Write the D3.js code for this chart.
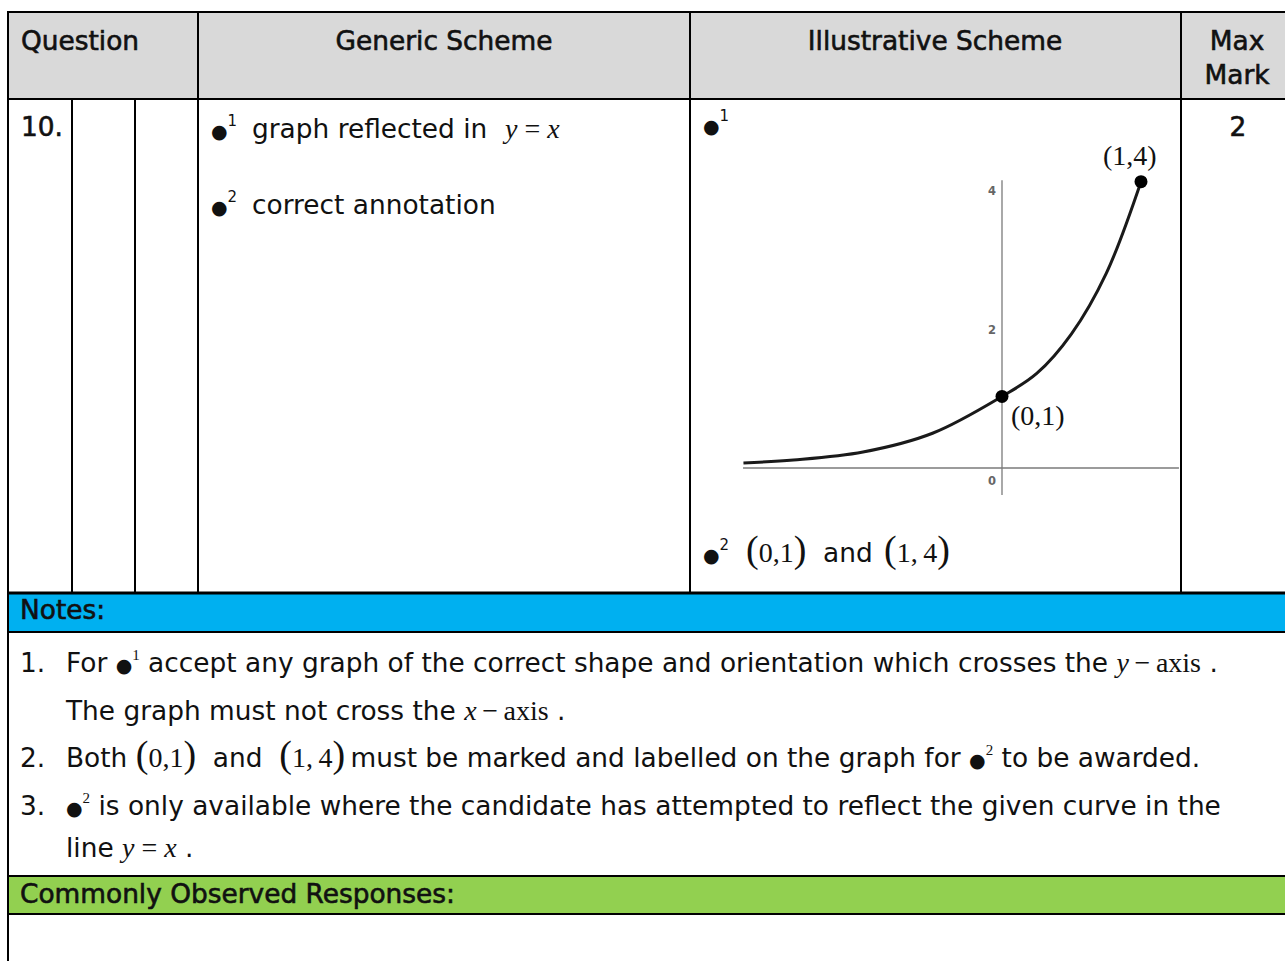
<!DOCTYPE html>
<html>
<head>
<meta charset="utf-8">
<script src="https://cdn.jsdelivr.net/npm/d3@7"></script>
<style>
  body { margin: 0; background: #fff; }
  svg { display: block; }
</style>
</head>
<body>
<div id="sheet"></div>
<script>
// values in the illustrative scheme (graph units)
const curveX = [-1.86, -1.5, -1, -0.5, 0, 0.25, 0.5, 0.75, 1];
const curveY = [0.072, 0.115, 0.23, 0.5, 1.03, 1.36, 1.93, 2.8, 4.12];
const pointX = [0, 1];
const pointY = [1.03, 4.12];
const pointLabels = ["(0,1)", "(1,4)"];
const yTickValues = [0, 2, 4];
const xAxisExtent = [-1.863, 1.273];
const yAxisExtent = [-0.39, 4.14];

// table text
const headers = ["Question", "Generic Scheme", "Illustrative Scheme"];
const maxMarkHeader = ["Max", "Mark"];
const questionNumber = "10.";
const maxMark = "2";

var svgWidth = 1285;
var svgHeight = 961;

var SANS = "'DejaVu Sans', Verdana, sans-serif";
var SERIF = "'Liberation Serif', 'Times New Roman', serif";
var FS = 26.4;
var MS = 28; // math (serif) size

var svg = d3.select("#sheet")
  .append("svg")
  .attr("width", svgWidth)
  .attr("height", svgHeight);

// ---- table background bands
var bands = [
  { y0: 12, y1: 99, fill: "#d9d9d9" },
  { y0: 593, y1: 632, fill: "#00b0f0" },
  { y0: 876, y1: 914, fill: "#92d050" }
];
svg.selectAll("rect.band")
  .data(bands)
  .enter()
  .append("rect")
  .attr("class", "band")
  .attr("x", 8)
  .attr("y", d => d.y0)
  .attr("width", svgWidth - 8)
  .attr("height", d => d.y1 - d.y0)
  .attr("fill", d => d.fill);

// ---- rules
var hRules = [12, 99, 593, 632, 876, 914];
svg.selectAll("line.h")
  .data(hRules)
  .enter()
  .append("line")
  .attr("x1", 7).attr("x2", svgWidth)
  .attr("y1", d => d).attr("y2", d => d)
  .attr("stroke", "#000")
  .attr("stroke-width", (d, i) => (i === 2 ? 3 : 2));

var vRules = [
  { x: 8, y0: 11, y1: svgHeight },
  { x: 72, y0: 99, y1: 593 },
  { x: 135, y0: 99, y1: 593 },
  { x: 198, y0: 11, y1: 593 },
  { x: 690, y0: 11, y1: 593 },
  { x: 1181, y0: 11, y1: 593 }
];
svg.selectAll("line.v")
  .data(vRules)
  .enter()
  .append("line")
  .attr("x1", d => d.x).attr("x2", d => d.x)
  .attr("y1", d => d.y0).attr("y2", d => d.y1)
  .attr("stroke", "#000")
  .attr("stroke-width", 2);

// ---- text helpers
function plain(x, y, str, opts) {
  opts = opts || {};
  return svg.append("text")
    .attr("x", x).attr("y", y)
    .attr("font-family", opts.family || SANS)
    .attr("font-size", opts.size || FS)
    .attr("text-anchor", opts.anchor || "start")
    .attr("fill", "#111")
    .attr("stroke", opts.heavy ? "#111" : null)
    .attr("stroke-width", opts.heavy ? 0.6 : null)
    .text(str);
}

// parts: {t, serif, it, size, sup, x}  (no empty parts: dy on an empty tspan is lost)
function rich(x, y, parts) {
  var t = svg.append("text")
    .attr("x", x).attr("y", y)
    .attr("font-family", SANS)
    .attr("font-size", FS)
    .attr("fill", "#111")
    .style("white-space", "pre");
  var shift = 0;
  parts.forEach(function(p) {
    var s = t.append("tspan").text(p.t);
    if (p.x !== undefined) s.attr("x", p.x);
    if (p.serif) s.attr("font-family", SERIF);
    if (p.it) s.attr("font-style", "italic");
    if (p.size) s.attr("font-size", p.size);
    var want = p.sup ? -12 : 0;
    if (want !== shift) { s.attr("dy", want - shift); shift = want; }
  });
  return t;
}

var BUL = "\u25CF";
var MINUS = "\u2009\u2212\u2009";
function bullet(n, serifSup, x) {
  return [{ t: BUL, size: 19, x: x }, { t: n, size: 15, serif: !!serifSup, sup: true }];
}
function paren(inner, x) {
  return [
    { t: "(", serif: true, size: 38, x: x },
    { t: inner, serif: true, size: MS },
    { t: ")", serif: true, size: 38 }
  ];
}

// ---- header
plain(21, 50, headers[0], { heavy: true });
plain(444, 50, headers[1], { anchor: "middle", heavy: true });
plain(935, 50, headers[2], { anchor: "middle", heavy: true });
plain(1237, 50, maxMarkHeader[0], { anchor: "middle", heavy: true });
plain(1237, 84, maxMarkHeader[1], { anchor: "middle", heavy: true });

// ---- question row
plain(21, 136, questionNumber, { heavy: true });
plain(1238, 136, maxMark, { anchor: "middle", heavy: true });

rich(211, 138, bullet("1").concat([
  { t: "graph reflected in", x: 252 },
  { t: "y", serif: true, it: true, size: MS, x: 505 },
  { t: " = ", serif: true, size: MS },
  { t: "x", serif: true, it: true, size: MS }
]));
rich(211, 214, bullet("2").concat([
  { t: "correct annotation", x: 252 }
]));

rich(703, 133, bullet("1"));
rich(703, 562, bullet("2")
  .concat(paren("0,1", 746))
  .concat([{ t: "and", x: 823 }])
  .concat(paren("1,\u20094", 884)));

// ---- illustrative graph
var xScale = d3.scaleLinear().domain([0, 1]).range([1002, 1141]);
var yScale = d3.scaleLinear().domain([0, 4]).range([468, 190]);

var graph = svg.append("g");

graph.append("line")
  .attr("x1", xScale(xAxisExtent[0])).attr("x2", xScale(xAxisExtent[1]))
  .attr("y1", yScale(0)).attr("y2", yScale(0))
  .attr("stroke", "#7a7a7a").attr("stroke-width", 1.3);
graph.append("line")
  .attr("x1", xScale(0)).attr("x2", xScale(0))
  .attr("y1", yScale(yAxisExtent[0])).attr("y2", yScale(yAxisExtent[1]))
  .attr("stroke", "#7a7a7a").attr("stroke-width", 1.3);

var leftAxis = d3.axisLeft(yScale)
  .tickValues(yTickValues)
  .tickFormat(d3.format("d"))
  .tickSize(0)
  .tickPadding(6);
var yAxis = graph.append("g")
  .attr("transform", `translate(${xScale(0)}, 0)`)
  .call(leftAxis);
yAxis.select(".domain").remove();
yAxis.selectAll("text")
  .attr("font-family", SANS)
  .attr("font-size", 11.5)
  .attr("font-weight", "bold")
  .attr("fill", "#666")
  .attr("dy", d => (d === 0 ? "1.4em" : "0.35em"));

var curvePts = curveX.map((x, i) => [x, curveY[i]]);
var line = d3.line()
  .x(d => xScale(d[0]))
  .y(d => yScale(d[1]))
  .curve(d3.curveCatmullRom.alpha(0.5));
graph.append("path")
  .attr("d", line(curvePts))
  .attr("fill", "none")
  .attr("stroke", "#1a1a1a")
  .attr("stroke-width", 3);

graph.selectAll("circle.pt")
  .data(pointX)
  .enter()
  .append("circle")
  .attr("cx", d => xScale(d))
  .attr("cy", (d, i) => yScale(pointY[i]))
  .attr("r", 6.5)
  .attr("fill", "#000");

var labelOffset = [[9, 29], [-38, -17]];
graph.selectAll("text.pl")
  .data(pointLabels)
  .enter()
  .append("text")
  .attr("x", (d, i) => xScale(pointX[i]) + labelOffset[i][0])
  .attr("y", (d, i) => yScale(pointY[i]) + labelOffset[i][1])
  .attr("font-family", SERIF)
  .attr("font-size", 28)
  .attr("fill", "#111")
  .text(d => d);

// ---- notes
plain(20, 619, "Notes:", { heavy: true });

rich(20, 672, [
  { t: "1." },
  { t: "For ", x: 66 }
].concat(bullet("1", true))
 .concat([
  { t: " accept any graph of the correct shape and orientation which crosses the " },
  { t: "y", serif: true, it: true, size: MS },
  { t: MINUS + "axis", serif: true, size: MS },
  { t: " ." }
]));
rich(66, 720, [
  { t: "The graph must not cross the " },
  { t: "x", serif: true, it: true, size: MS },
  { t: MINUS + "axis", serif: true, size: MS },
  { t: " ." }
]);
rich(20, 767, [
  { t: "2." },
  { t: "Both ", x: 66 }
].concat(paren("0,1"))
 .concat([{ t: "  and  " }])
 .concat(paren("1,\u20094"))
 .concat([{ t: "\u2009must be marked and labelled on the graph for " }])
 .concat(bullet("2", true))
 .concat([{ t: " to be awarded." }]));
rich(20, 815, [
  { t: "3." }
].concat(bullet("2", true, 66))
 .concat([{ t: " is only available where the candidate has attempted to reflect the given curve in the" }]));
rich(66, 857, [
  { t: "line " },
  { t: "y", serif: true, it: true, size: MS },
  { t: " = ", serif: true, size: MS },
  { t: "x", serif: true, it: true, size: MS },
  { t: " ." }
]);

plain(20, 903, "Commonly Observed Responses:", { heavy: true });
</script>
</body>
</html>
